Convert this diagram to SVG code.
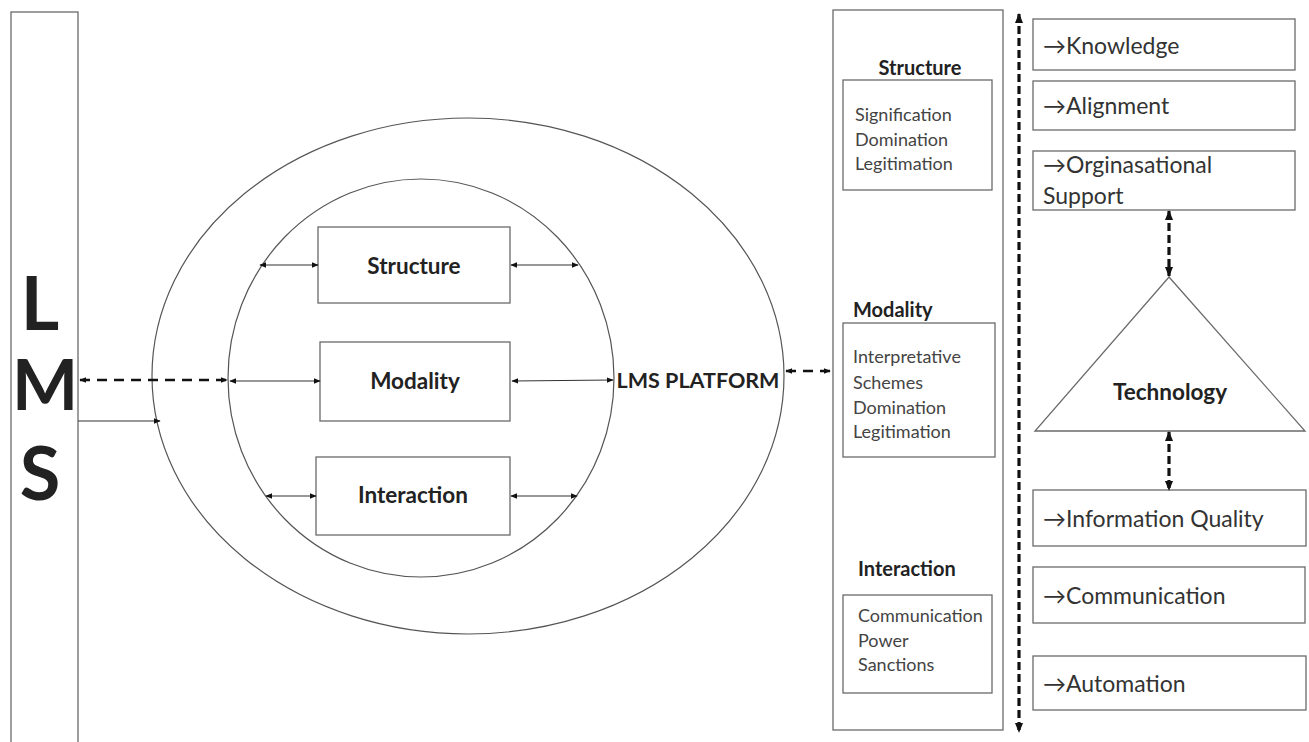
<svg xmlns="http://www.w3.org/2000/svg" width="1309" height="742" viewBox="0 0 1309 742">
  <style>
    .box { fill: #fff; stroke: #6a6a6a; stroke-width: 1.3; }
    .ring { fill: none; stroke: #555; stroke-width: 1.2; }
    .ln { fill: none; stroke: #333; stroke-width: 1.2; }
    .dash { fill: none; stroke: #111; stroke-width: 2.4; stroke-dasharray: 10 7; }
    .vdash { fill: none; stroke: #111; stroke-width: 3.2; stroke-dasharray: 8 4; }
    .t { font-family: Lato, "Open Sans", sans-serif; fill: #222; }
    .b { font-weight: bold; }
    .sm { font-size: 18px; fill: #444; }
    .hd { font-size: 20px; }
    .lb { font-size: 23px; fill: #333; }
    .nd { font-size: 22.5px; }
  </style>
  <defs>
    <marker id="ah" viewBox="0 0 10 10" refX="9" refY="5" markerWidth="7" markerHeight="7" orient="auto-start-reverse" markerUnits="userSpaceOnUse">
      <path d="M0,1 L10,5 L0,9 z" fill="#111"/>
    </marker>
    <marker id="ahb" viewBox="0 0 10 10" refX="9" refY="5" markerWidth="10" markerHeight="10" orient="auto-start-reverse" markerUnits="userSpaceOnUse">
      <path d="M0,1 L10,5 L0,9 z" fill="#111"/>
    </marker>
  </defs>
  <rect width="1309" height="742" fill="#fff"/>

  <!-- LMS column -->
  <g id="lms">
    <rect class="box" x="11" y="12" width="67" height="740"/>
    <text class="t b" x="40" y="330" font-size="74" text-anchor="middle">L</text>
    <text class="t b" x="45" y="410" font-size="70" text-anchor="middle">M</text>
    <text class="t b" x="40" y="500" font-size="74" text-anchor="middle">S</text>
  </g>

  <!-- LMS platform rings -->
  <g id="platform">
    <ellipse class="ring" cx="468" cy="376" rx="316" ry="258"/>
    <ellipse class="ring" cx="421" cy="378" rx="193" ry="199"/>
    <text class="t b" x="698" y="388" font-size="21.5" text-anchor="middle">LMS PLATFORM</text>
  </g>

  <g id="structure">
    <rect class="box" x="318" y="227" width="192" height="76"/>
    <text class="t b nd" x="414" y="274" text-anchor="middle">Structure</text>
  </g>
  <g id="modality">
    <rect class="box" x="320" y="342" width="190" height="79"/>
    <text class="t b nd" x="415" y="389" text-anchor="middle">Modality</text>
  </g>
  <g id="interaction">
    <rect class="box" x="316" y="457" width="194" height="78"/>
    <text class="t b nd" x="413" y="503" text-anchor="middle">Interaction</text>
  </g>

  <!-- Structuration column -->
  <g id="dimensions">
    <rect class="box" x="833" y="10" width="170" height="720"/>
  </g>
  <g id="dim-structure">
    <text class="t b hd" x="920" y="75" text-anchor="middle">Structure</text>
    <rect class="box" x="843" y="80" width="149" height="110"/>
    <text class="t sm" x="855" y="121">Signification</text>
    <text class="t sm" x="855" y="146">Domination</text>
    <text class="t sm" x="855" y="170">Legitimation</text>
  </g>
  <g id="dim-modality">
    <text class="t b hd" x="853" y="317">Modality</text>
    <rect class="box" x="843" y="323" width="152" height="134"/>
    <text class="t sm" x="853" y="363">Interpretative</text>
    <text class="t sm" x="853" y="389">Schemes</text>
    <text class="t sm" x="853" y="414">Domination</text>
    <text class="t sm" x="853" y="438">Legitimation</text>
  </g>
  <g id="dim-interaction">
    <text class="t b hd" x="858" y="576">Interaction</text>
    <rect class="box" x="843" y="595" width="149" height="98"/>
    <text class="t sm" x="858" y="622">Communication</text>
    <text class="t sm" x="858" y="647">Power</text>
    <text class="t sm" x="858" y="671">Sanctions</text>
  </g>

  <!-- Success factors -->
  <g id="knowledge">
    <rect class="box" x="1033" y="19" width="262" height="51"/>
    <text class="t lb" x="1043" y="54">→Knowledge</text>
  </g>
  <g id="alignment">
    <rect class="box" x="1033" y="81" width="262" height="49"/>
    <text class="t lb" x="1043" y="114">→Alignment</text>
  </g>
  <g id="support">
    <rect class="box" x="1033" y="151" width="262" height="59"/>
    <text class="t lb" x="1043" y="173">→Orginasational</text>
    <text class="t lb" x="1043" y="204">Support</text>
  </g>
  <g id="technology">
    <polygon class="box" points="1169,277 1305,431 1035,431"/>
    <text class="t b nd" x="1170" y="400" text-anchor="middle">Technology</text>
  </g>
  <g id="information-quality">
    <rect class="box" x="1033" y="490" width="273" height="56"/>
    <text class="t lb" x="1043" y="527">→Information Quality</text>
  </g>
  <g id="communication">
    <rect class="box" x="1033" y="567" width="272" height="56"/>
    <text class="t lb" x="1043" y="604">→Communication</text>
  </g>
  <g id="automation">
    <rect class="box" x="1033" y="656" width="273" height="54"/>
    <text class="t lb" x="1043" y="692">→Automation</text>
  </g>

  <!-- Connectors -->
  <g id="connectors">
    <line class="dash" x1="80" y1="380" x2="227" y2="380" marker-start="url(#ah)" marker-end="url(#ah)"/>
    <line class="ln" x1="78" y1="421" x2="160" y2="421" marker-end="url(#ah)"/>

    <line class="ln" x1="260" y1="265" x2="318" y2="265" marker-start="url(#ah)" marker-end="url(#ah)"/>
    <line class="ln" x1="511" y1="265" x2="578" y2="265" marker-start="url(#ah)" marker-end="url(#ah)"/>
    <line class="ln" x1="230" y1="381" x2="320" y2="381" marker-start="url(#ah)" marker-end="url(#ah)"/>
    <line class="ln" x1="512" y1="381" x2="613" y2="380" marker-start="url(#ah)" marker-end="url(#ah)"/>
    <line class="ln" x1="266" y1="496" x2="316" y2="496" marker-start="url(#ah)" marker-end="url(#ah)"/>
    <line class="ln" x1="511" y1="496" x2="577" y2="496" marker-start="url(#ah)" marker-end="url(#ah)"/>

    <line class="dash" x1="786" y1="371" x2="830" y2="371" stroke-dasharray="7 9" marker-start="url(#ah)" marker-end="url(#ah)"/>

    <line class="vdash" x1="1019" y1="14" x2="1019" y2="732" marker-start="url(#ahb)" marker-end="url(#ahb)"/>
    <line class="vdash" x1="1169" y1="211" x2="1169" y2="276" marker-start="url(#ahb)" marker-end="url(#ahb)"/>
    <line class="vdash" x1="1169" y1="432" x2="1169" y2="490" marker-start="url(#ahb)" marker-end="url(#ahb)"/>
  </g>
</svg>
